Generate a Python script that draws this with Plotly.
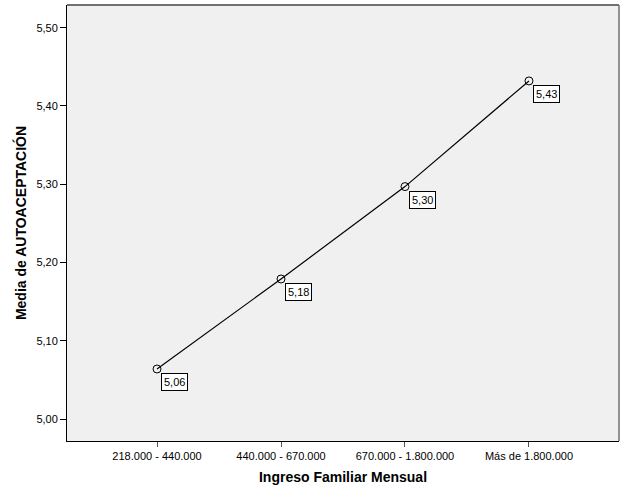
import plotly.graph_objects as go

categories = ["218.000 - 440.000", "440.000 - 670.000", "670.000 - 1.800.000", "Más de 1.800.000"]
means = [5.064, 5.179, 5.297, 5.432]
labels = ["5,06", "5,18", "5,30", "5,43"]
y_ticks = [5.0, 5.1, 5.2, 5.3, 5.4, 5.5]

x_idx = list(range(len(categories)))

fig = go.Figure()
fig.add_trace(go.Scatter(
    x=x_idx, y=means, mode="lines+markers",
    line=dict(color="black", width=1.2),
    marker=dict(symbol="circle-open", size=8, color="black", line=dict(width=1)),
    showlegend=False, hoverinfo="skip",
))

for xi, yv, lab in zip(x_idx, means, labels):
    fig.add_annotation(
        x=xi, y=yv, text=lab, showarrow=False,
        xanchor="left", yanchor="top", xshift=4, yshift=-4,
        bgcolor="white", bordercolor="black", borderwidth=1, borderpad=2,
        font=dict(family="Liberation Sans, Arial", size=11, color="black"),
    )

# gray top and right frame lines (as in the original)
fig.add_shape(type="line", xref="paper", yref="paper", x0=0, x1=1, y0=1, y1=1,
              line=dict(color="#707070", width=2))
fig.add_shape(type="line", xref="paper", yref="paper", x0=1, x1=1, y0=0, y1=1,
              line=dict(color="#707070", width=1.5))

fig.update_layout(
    width=626, height=501,
    margin=dict(l=67, r=7, t=5, b=60),
    paper_bgcolor="white", plot_bgcolor="#F0F0F0",
    separators=",.",
    font=dict(family="Liberation Sans, Arial", size=11, color="black"),
    xaxis=dict(
        tickmode="array", tickvals=x_idx, ticktext=categories,
        range=[-0.726, 3.726], showgrid=False, zeroline=False,
        ticks="outside", ticklen=5, tickcolor="#555555", tickwidth=1,
        showline=True, linecolor="black", linewidth=1, mirror=False,
        tickfont=dict(size=11), automargin=False,
        title=dict(text="<b>Ingreso Familiar Mensual</b>", font=dict(size=14), standoff=10),
    ),
    yaxis=dict(
        tickmode="array", tickvals=y_ticks, tickformat=".2f",
        range=[4.972, 5.529], showgrid=False, zeroline=False,
        ticks="outside", ticklen=6, tickcolor="black", tickwidth=1,
        showline=True, linecolor="black", linewidth=1, mirror=False,
        tickfont=dict(size=11), automargin=False,
        title=dict(text="<b>Media de AUTOACEPTACIÓN</b>", font=dict(size=14), standoff=6),
    ),
)

fig.write_html("out.html", config={"displayModeBar": False},
               post_script="document.body.style.margin='0';")
